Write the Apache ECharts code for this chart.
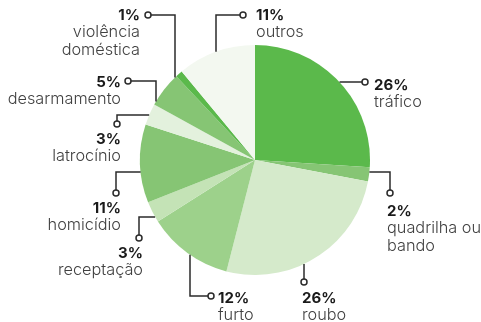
<!DOCTYPE html>
<html>
<head>
<meta charset="utf-8">
<script src="https://cdn.jsdelivr.net/npm/echarts@6/dist/echarts.min.js"></script>
<style>
  html, body { margin: 0; padding: 0; background: #ffffff; }
  #chart { width: 481px; height: 322px; }
</style>
</head>
<body>
<div id="chart"></div>
<script>
// Share of cases by offence (percent), clockwise from 12 o'clock
const categories = ['tráfico', 'quadrilha ou\nbando', 'roubo', 'furto', 'receptação',
  'homicídio', 'latrocínio', 'desarmamento', 'violência\ndoméstica', 'outros'];
const shares = [26, 2, 26, 12, 3, 11, 3, 5, 1, 11];
const sliceColors = ['#5bb94b', '#86c574', '#d5eacb', '#9dd18b', '#c4e3b6',
  '#86c574', '#e3f1dd', '#86c574', '#5bb94b', '#f3f8f0'];

// Pie geometry (px)
const CX = 255, CY = 160, R = 115;

// Callout layout per slice: first segment leaves the rim horizontally ('h', at y = at)
// or vertically ('v', at x = at), then runs through the bend points to the dot.
const callouts = [
  { dir: 'h', at: 82,  bends: [],          dot: [365, 82],  text: [374, 85],  align: 'left' },
  { dir: 'h', at: 172, bends: [[390, 172]], dot: [390, 193], text: [387, 211], align: 'left' },
  { dir: 'v', at: 304, bends: [],          dot: [304, 282], text: [302, 298], align: 'left' },
  { dir: 'v', at: 190, bends: [[190, 296]], dot: [211, 296], text: [218, 298], align: 'left' },
  { dir: 'h', at: 217, bends: [[139, 217]], dot: [139, 238], text: [143, 253], align: 'right' },
  { dir: 'h', at: 172, bends: [[116, 172]], dot: [116, 193], text: [121, 208], align: 'right' },
  { dir: 'h', at: 115, bends: [[117, 115]], dot: [117, 124], text: [121, 139], align: 'right' },
  { dir: 'v', at: 156, bends: [[156, 81]],  dot: [128, 81],  text: [121, 82],  align: 'right' },
  { dir: 'v', at: 175, bends: [[175, 15]],  dot: [148, 15],  text: [140, 15],  align: 'right' },
  { dir: 'v', at: 216, bends: [[216, 15]],  dot: [243, 15],  text: [256, 15],  align: 'left' }
];

const LINE_H = 17.5;

function rimPoint(c) {
  const next = c.bends.length ? c.bends[0] : c.dot;
  if (c.dir === 'h') {
    const dx = Math.sqrt(Math.max(0, R * R - (c.at - CY) * (c.at - CY)));
    return [next[0] < CX ? CX - dx : CX + dx, c.at];
  }
  const dy = Math.sqrt(Math.max(0, R * R - (c.at - CX) * (c.at - CX)));
  return [c.at, next[1] < CY ? CY - dy : CY + dy];
}

const leaderGraphics = [];
callouts.forEach(function (c) {
  const pts = [rimPoint(c)].concat(c.bends, [c.dot]);
  leaderGraphics.push({
    type: 'polyline', z: 10,
    shape: { points: pts },
    style: { stroke: '#2b2b2b', lineWidth: 1.5, fill: null }
  });
  leaderGraphics.push({
    type: 'circle', z: 11,
    shape: { cx: c.dot[0], cy: c.dot[1], r: 3 },
    style: { stroke: '#2b2b2b', lineWidth: 1.5, fill: '#ffffff' }
  });
});

const chart = echarts.init(document.getElementById('chart'), null, { renderer: 'canvas' });

chart.setOption({
  backgroundColor: '#ffffff',
  animation: false,
  graphic: leaderGraphics,
  series: [{
    type: 'pie',
    center: [CX, CY],
    radius: [0, R],
    startAngle: 90,
    clockwise: true,
    avoidLabelOverlap: false,
    silent: true,
    itemStyle: { borderWidth: 0 },
    data: categories.map(function (name, i) {
      return { name: name, value: shares[i], itemStyle: { color: sliceColors[i] } };
    }),
    label: {
      show: true,
      formatter: function (p) {
        return '{p|' + p.value + '%}\n{n|' + p.name + '}';
      },
      rich: {
        p: { fontFamily: 'Inter', fontWeight: 'bold', fontSize: 15, color: '#1a1a1a', lineHeight: LINE_H },
        n: { fontFamily: 'Inter', fontWeight: 300, fontSize: 16.3, color: '#404040', lineHeight: LINE_H }
      }
    },
    labelLine: { show: false },
    labelLayout: function (params) {
      const c = callouts[params.dataIndex];
      return {
        x: c.text[0],
        y: c.text[1] - LINE_H / 2,
        align: c.align,
        verticalAlign: 'top'
      };
    }
  }]
});
</script>
</body>
</html>
